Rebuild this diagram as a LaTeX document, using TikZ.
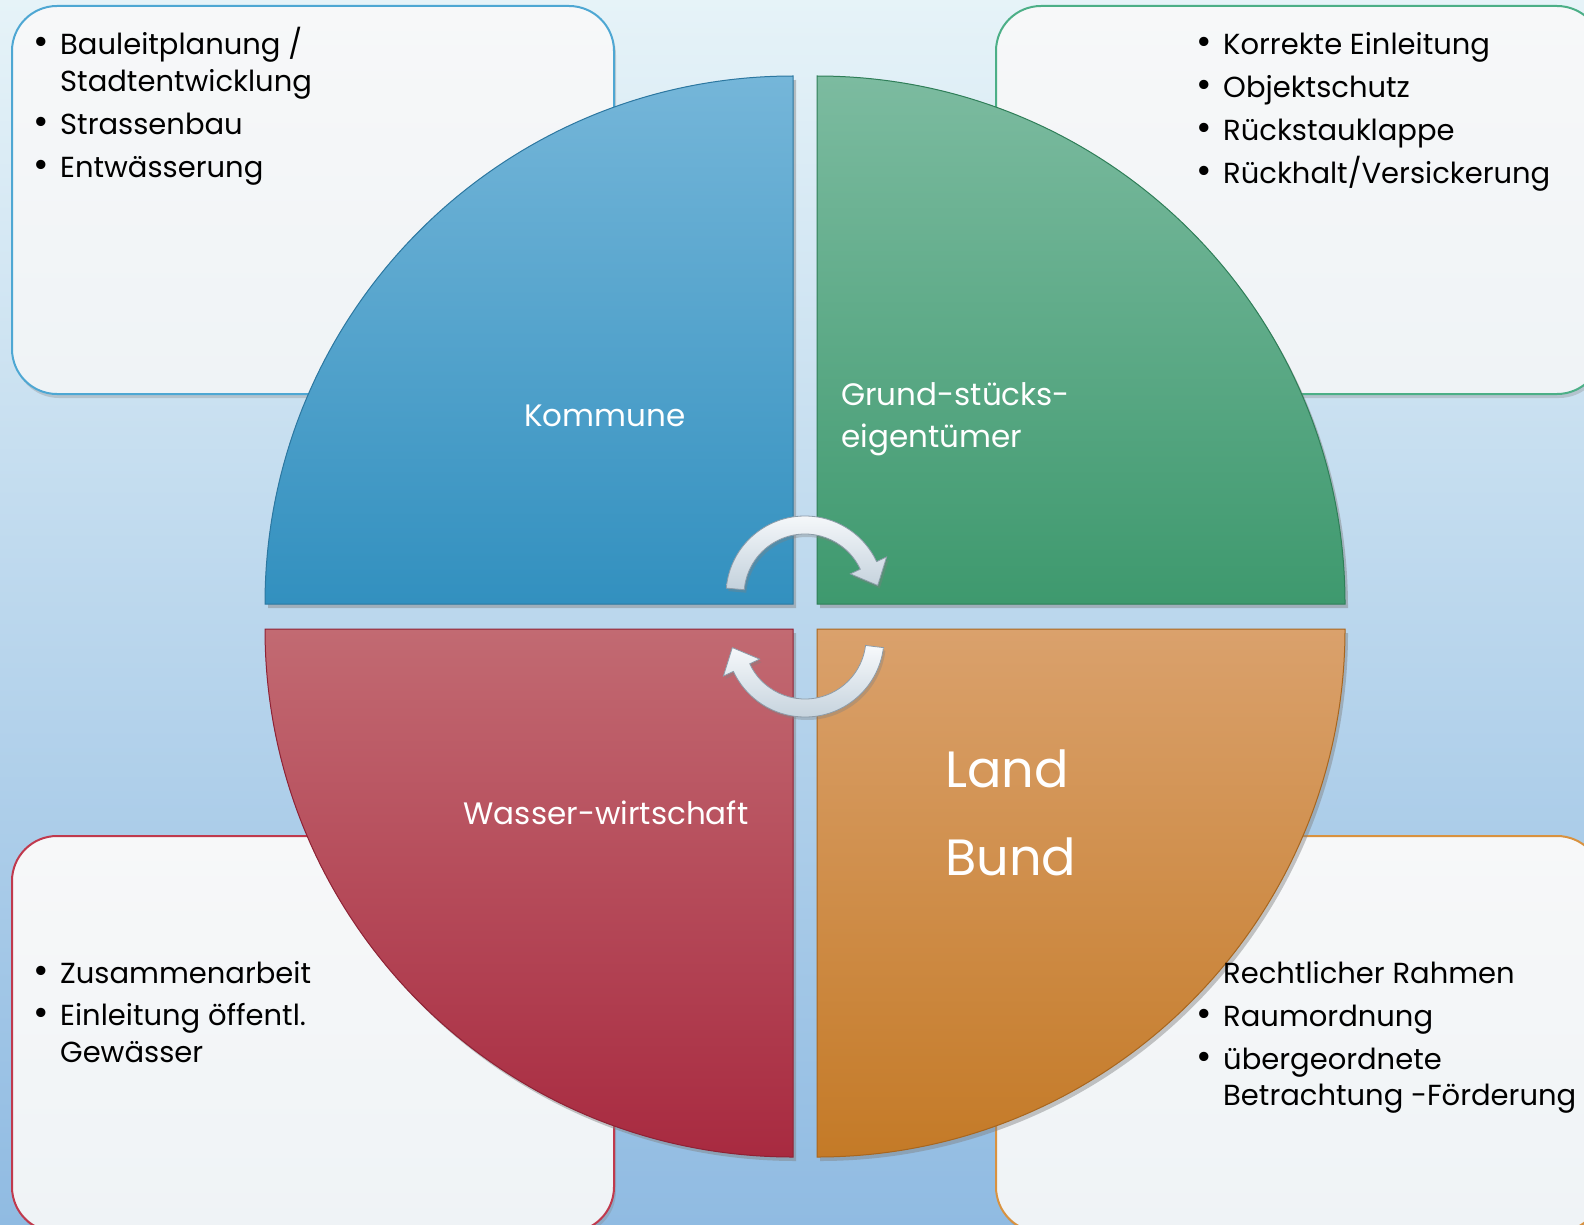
\documentclass[tikz,border=0pt]{standalone}
\usepackage{fontspec}
\setmainfont{Poppins}
\usetikzlibrary{shadows}
\definecolor{bgtop}{HTML}{E6F3F8}
\definecolor{bgbot}{HTML}{90BBE2}
\definecolor{qbluet}{HTML}{75B6D9}
\definecolor{qblueb}{HTML}{3290BF}
\definecolor{qbluee}{HTML}{2C77A0}
\definecolor{qgreent}{HTML}{7CBBA0}
\definecolor{qgreenb}{HTML}{3E996E}
\definecolor{qgreene}{HTML}{2F7E58}
\definecolor{qredt}{HTML}{C26A72}
\definecolor{qredb}{HTML}{A82A40}
\definecolor{qrede}{HTML}{8E2235}
\definecolor{qoranget}{HTML}{DAA16C}
\definecolor{qorangeb}{HTML}{C47A27}
\definecolor{qorangee}{HTML}{A8661E}
\definecolor{bxblue}{HTML}{4EA7D3}
\definecolor{bxgreen}{HTML}{4CAF87}
\definecolor{bxred}{HTML}{C0394D}
\definecolor{bxorange}{HTML}{D9923F}
\definecolor{boxtop}{HTML}{F7F8F9}
\definecolor{boxbot}{HTML}{EFF3F6}
\definecolor{arrt}{HTML}{F7F9FB}
\definecolor{arrb}{HTML}{C3D1DC}
\definecolor{arre}{HTML}{8D9CA9}
\newcommand{\bul}{\llap{\scalebox{1.3}{\textbullet}\hspace{11pt}}}
\tikzset{
  infobox/.style={line width=2pt, rounded corners=45pt, top color=boxtop, bottom color=boxbot,
    drop shadow={opacity=0.3, shadow xshift=2pt, shadow yshift=-4pt}},
  quad/.style={line width=1pt, drop shadow={opacity=0.45, shadow xshift=3pt, shadow yshift=-4pt}},
  cycarrow/.style={draw=arre, line width=0.8pt, top color=arrt, bottom color=arrb,
    drop shadow={opacity=0.35, shadow xshift=2pt, shadow yshift=-3pt}},
  itemtxt/.style={inner sep=0pt, anchor=base west, font=\fontsize{29}{35}\selectfont, text=black},
  qlabel/.style={inner sep=0pt, font=\fontsize{31}{37}\selectfont, text=white},
  biglabel/.style={inner sep=0pt, anchor=base west, font=\fontsize{51}{60}\selectfont, text=white}
}
\begin{document}
\begin{tikzpicture}[x=1pt,y=-1pt]
\useasboundingbox (0,0) rectangle (1584,1225);
% background
\shade[top color=bgtop, bottom color=bgbot] (0,0) rectangle (1584,1225);
% info boxes
\path[infobox, draw=bxblue]   (12,6) rectangle (614,394);
\path[infobox, draw=bxgreen]  (996,6) rectangle (1602,394);
\path[infobox, draw=bxred]    (12,836) rectangle (614,1232);
\path[infobox, draw=bxorange] (996,836) rectangle (1602,1232);
% quadrants
\path[quad, draw=qbluee, top color=qbluet, bottom color=qblueb]
  (793,604) -- (265,604) arc[start angle=180, end angle=270, radius=528] -- cycle;
\path[quad, draw=qgreene, top color=qgreent, bottom color=qgreenb]
  (817,604) -- (817,76) arc[start angle=270, end angle=360, radius=528] -- cycle;
\path[quad, draw=qorangee, top color=qoranget, bottom color=qorangeb]
  (817,629) -- (1345,629) arc[start angle=0, end angle=90, radius=528] -- cycle;
\path[quad, draw=qrede, top color=qredt, bottom color=qredb]
  (793,629) -- (793,1157) arc[start angle=90, end angle=180, radius=528] -- cycle;
% cycle arrows
\begin{scope}[shift={(805,595)}]
  \path[cycarrow] (185:79) arc[start angle=185, end angle=335, radius=79]
    -- (335:90) -- (72.7,-9.6) -- (335:50) -- (335:61)
    arc[start angle=335, end angle=185, radius=61] -- cycle;
\end{scope}
\begin{scope}[shift={(805,638)}]
  \path[cycarrow] (7:79) arc[start angle=7, end angle=155, radius=79]
    -- (155:90) -- (-72.7,9.6) -- (155:50) -- (155:61)
    arc[start angle=155, end angle=7, radius=61] -- cycle;
\end{scope}
% quadrant labels
\node[qlabel, anchor=base] (kommune) at (605,426) {Kommune};
\node[qlabel, anchor=base west] (grund1) at (841,405) {Grund-stücks-};
\node[qlabel, anchor=base west] (grund2) at (841,447) {eigentümer};
\node[qlabel, anchor=base] (wasser) at (606,824) {Wasser-wirtschaft};
\node[biglabel] (land) at (945,787) {Land};
\node[biglabel] (bund) at (945,875) {Bund};
% top-left box
\node[itemtxt] (tl1) at (60,55) {\bul Bauleitplanung /};
\node[itemtxt] (tl2) at (60,92) {Stadtentwicklung};
\node[itemtxt] (tl3) at (60,135) {\bul Strassenbau};
\node[itemtxt] (tl4) at (60,178) {\bul Entwässerung};
% top-right box
\node[itemtxt] (tr1) at (1223,55) {\bul Korrekte Einleitung};
\node[itemtxt] (tr2) at (1223,98) {\bul Objektschutz};
\node[itemtxt] (tr3) at (1223,141) {\bul Rückstauklappe};
\node[itemtxt] (tr4) at (1223,184) {\bul Rückhalt/Versickerung};
% bottom-left box
\node[itemtxt] (bl1) at (60,983) {\bul Zusammenarbeit};
\node[itemtxt] (bl2) at (60,1025) {\bul Einleitung öffentl.};
\node[itemtxt] (bl3) at (60,1062) {Gewässer};
% bottom-right box
\node[itemtxt] (br1) at (1223,983) {Rechtlicher Rahmen};
\node[itemtxt] (br2) at (1223,1026) {\bul Raumordnung};
\node[itemtxt] (br3) at (1223,1069) {\bul übergeordnete};
\node[itemtxt] (br4) at (1223,1105) {Betrachtung -Förderung};
\end{tikzpicture}
\end{document}
